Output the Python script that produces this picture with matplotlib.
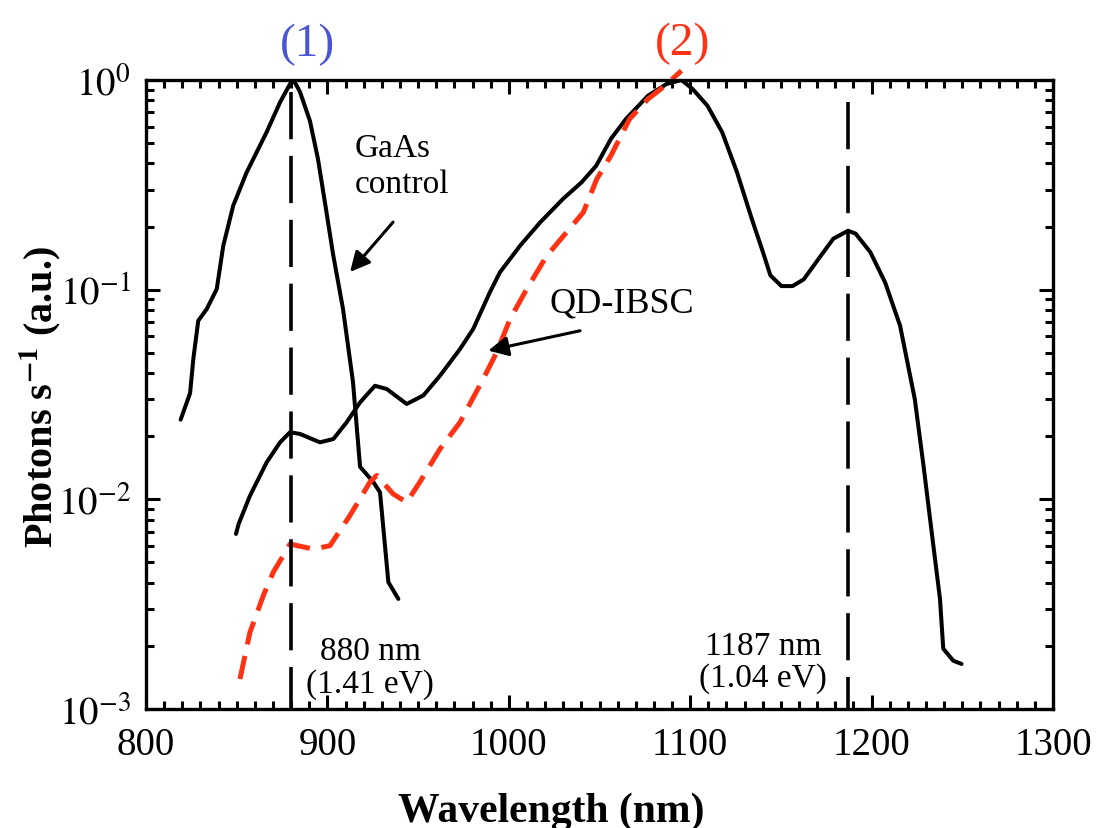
import matplotlib
matplotlib.use('Agg')
import matplotlib.pyplot as plt
from matplotlib.ticker import FixedLocator, MultipleLocator, LogLocator, NullFormatter

plt.rcParams['font.family'] = ['Liberation Serif', 'DejaVu Serif']
plt.rcParams['mathtext.fontset'] = 'stix'
plt.rcParams['lines.scale_dashes'] = False

# GaAs control cell electroluminescence
gaas_nm = [819.1, 824.3, 826.1, 828.8, 833.5, 839.0, 842.6, 848.1, 855.5, 866.5,
           873.9, 879.4, 881.5, 884.9, 890.4, 894.8, 899.2, 903.1, 908.6, 914.1,
           918.0, 925.3, 929.0, 933.6, 939.1]
gaas_pl = [0.0240, 0.0321, 0.0468, 0.0711, 0.0809, 0.1007, 0.162, 0.252, 0.363, 0.564,
           0.783, 0.957, 0.995, 0.877, 0.637, 0.420, 0.243, 0.148, 0.0809, 0.0363,
           0.0143, 0.0121, 0.0108, 0.00403, 0.00335]

# QD-IBSC electroluminescence (solid)
qd_nm = [849.6, 851.0, 857.3, 866.5, 873.9, 879.4, 884.9, 895.9, 903.3, 910.6,
         918.0, 926.2, 932.7, 943.7, 952.9, 962.1, 973.1, 980.4, 989.6, 995.1,
         1006.2, 1017.2, 1029.9, 1040.1, 1048.2, 1056.3, 1064.6, 1076.7, 1087.0, 1095.2,
         1101.3, 1109.5, 1117.6, 1125.8, 1134.0, 1140.1, 1144.2, 1150.3, 1156.4, 1162.6,
         1170.7, 1178.9, 1187.0, 1191.2, 1199.3, 1207.5, 1215.7, 1223.8, 1228.6, 1233.1,
         1237.7, 1239.5, 1245.0, 1249.6]
qd_pl = [0.00684, 0.0076, 0.0104, 0.0150, 0.0187, 0.0209, 0.0205, 0.0187, 0.0194, 0.0233,
         0.0290, 0.0348, 0.0336, 0.0285, 0.0313, 0.0389, 0.0521, 0.0650, 0.0973, 0.121,
         0.162, 0.209, 0.271, 0.325, 0.390, 0.524, 0.652, 0.841, 0.957, 1.0,
         0.906, 0.754, 0.564, 0.363, 0.217, 0.151, 0.117, 0.104, 0.104, 0.112,
         0.140, 0.175, 0.191, 0.185, 0.151, 0.108, 0.0673, 0.0301, 0.0145, 0.00700,
         0.00335, 0.00194, 0.00170, 0.00164]

# QD-IBSC second spectrum (red dashed)
qd2_nm = [851.8, 857.3, 864.7, 870.2, 875.7, 879.4, 892.2, 901.4, 912.4, 923.5,
          927.2, 936.3, 943.7, 951.0, 962.1, 973.1, 985.9, 993.3, 1000.7, 1009.9,
          1020.9, 1031.9, 1041.1, 1048.5, 1056.3, 1066.6, 1076.7, 1085.0, 1095.2]
qd2_pl = [0.00139, 0.00232, 0.00348, 0.00450, 0.00540, 0.00612, 0.00579, 0.00601, 0.00836, 0.0121,
          0.0130, 0.0106, 0.00968, 0.0121, 0.0174, 0.0233, 0.0375, 0.0502, 0.0724, 0.1007,
          0.145, 0.188, 0.234, 0.337, 0.436, 0.652, 0.811, 0.923, 1.107]

peak_nm = [880, 1187]
peak_top = [0.877, 0.785]
peak_text = [['880 nm', '(1.41 eV)'], ['1187 nm', '(1.04 eV)']]

x_ticks = [800, 900, 1000, 1100, 1200, 1300]
y_ticks = [1e-3, 1e-2, 1e-1, 1e0]
y_tick_labels = [r'$10^{-3}$', r'$10^{-2}$', r'$10^{-1}$', r'$10^{0}$']

W, H = 1106, 829
fig = plt.figure(figsize=(W / 100, H / 100), dpi=100)
ax = fig.add_axes([146 / W, 1 - 710 / H, (1053 - 146) / W, (710 - 81) / H])
ax.set_yscale('log')
ax.set_xlim(800, 1300)
ax.set_ylim(1e-3, 1)

red = '#ff3214'
ax.plot(gaas_nm, gaas_pl, color='black', lw=2.9, solid_joinstyle='round',
        solid_capstyle='round')
ax.plot(qd_nm, qd_pl, color='black', lw=2.9, solid_joinstyle='round',
        solid_capstyle='round')
ax.plot(qd2_nm, qd2_pl, color=red, lw=3.6, dashes=(17, 8.5), clip_on=False)

for nm, top in zip(peak_nm, peak_top):
    ax.plot([nm, nm], [top, 1e-3], color='black', lw=2.6, dashes=(34, 12))

# peak labels
ax.text(923.5, 0.00173, peak_text[0][0], ha='center', va='baseline', fontsize=24)
ax.text(923.5, 0.00121, peak_text[0][1], ha='center', va='baseline', fontsize=24)
ax.text(1140.1, 0.00183, peak_text[1][0], ha='center', va='baseline', fontsize=24)
ax.text(1140.1, 0.00129, peak_text[1][1], ha='center', va='baseline', fontsize=24)

# curve annotations
ax.text(915.2, 0.434, 'GaAs', ha='left', va='baseline', fontsize=24)
ax.text(915.2, 0.292, 'control', ha='left', va='baseline', fontsize=24)
ax.annotate('', xy=(912.5, 0.1215), xytext=(936.2, 0.210),
            arrowprops=dict(arrowstyle='-|>', color='black', lw=2.2,
                            mutation_scale=30, shrinkA=0, shrinkB=0))
ax.text(1022.7, 0.0783, 'QD-IBSC', ha='left', va='baseline', fontsize=26)
ax.annotate('', xy=(988.7, 0.0512), xytext=(1039.3, 0.0637),
            arrowprops=dict(arrowstyle='-|>', color='black', lw=2.2,
                            mutation_scale=30, shrinkA=0, shrinkB=0))

fig.text(307 / W, 1 - 45 / H, '(1)', ha='center', va='center', fontsize=34, color='#4a55d6')
fig.text(683 / W, 1 - 44 / H, '(2)', ha='center', va='center', fontsize=34, color=red)

# axes styling
for s in ax.spines.values():
    s.set_linewidth(2.4)
ax.xaxis.set_major_locator(FixedLocator(x_ticks))
ax.xaxis.set_minor_locator(MultipleLocator(10))
ax.set_xticklabels([str(v) for v in x_ticks])
ax.yaxis.set_major_locator(FixedLocator(y_ticks))
ax.yaxis.set_minor_locator(LogLocator(base=10, subs=range(2, 10)))
ax.yaxis.set_minor_formatter(NullFormatter())
ax.set_yticklabels(y_tick_labels)
ax.tick_params(which='both', direction='in', top=True, right=True, width=2.2)
ax.tick_params(which='major', length=10)
ax.tick_params(which='minor', length=5.5)
ax.tick_params(axis='x', which='major', labelsize=28, pad=12)
ax.tick_params(axis='y', which='major', labelsize=28, pad=11)

fig.text(551 / W, 1 - 822 / H, 'Wavelength (nm)', ha='center', va='baseline',
         fontsize=30, fontweight='bold')
fig.text(40 / W, 1 - 397 / H, r'Photons s$^{\mathbf{-1}}$ (a.u.)', ha='center', va='center',
         rotation=90, fontsize=29, fontweight='bold')

fig.savefig('out.png', dpi=100, facecolor='white')
